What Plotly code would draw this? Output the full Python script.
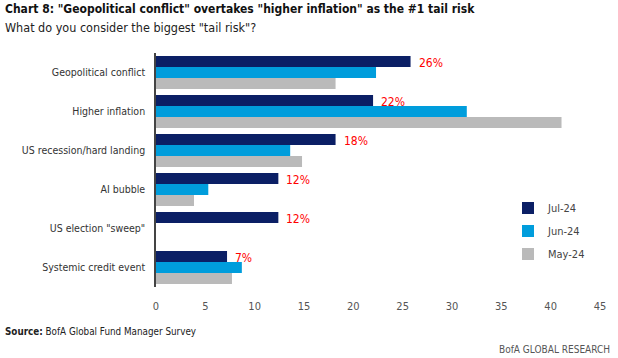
import plotly.graph_objects as go

categories = ["Geopolitical conflict", "Higher inflation", "US recession/hard landing",
              "AI bubble", "US election \"sweep\"", "Systemic credit event"]
jul_24 = [25.8, 22.0, 18.2, 12.4, 12.4, 7.2]
jun_24 = [22.3, 31.5, 13.6, 5.3, None, 8.7]
may_24 = [18.2, 41.1, 14.8, 3.85, None, 7.7]
jul_labels = ["26%", "22%", "18%", "12%", "12%", "7%"]
x_ticks = [0, 5, 10, 15, 20, 25, 30, 35, 40, 45]

FONT = "DejaVu Sans Condensed, Roboto, sans-serif"
C_JUL = "#0b1f65"
C_JUN = "#009ddc"
C_MAY = "#bababa"

# plot area in pixels: left 156, right 600, top 53, bottom 287
PW, PH = 444, 234

fig = go.Figure()
for name, vals, col, grp in [("Jul-24", jul_24, C_JUL, "a"), ("Jun-24", jun_24, C_JUN, "b"),
                             ("May-24", may_24, C_MAY, "c")]:
    fig.add_trace(go.Bar(y=categories, x=vals, name=name, orientation="h",
                         marker=dict(color=col, line=dict(width=0)), legendgroup=grp))

for cat, v, lab in zip(categories, jul_24, jul_labels):
    fig.add_annotation(x=v, y=cat, text=lab, showarrow=False, xanchor="left",
                       xshift=6, yshift=10, font=dict(family=FONT, size=12, color="#ff0000"))

fig.update_layout(
    width=618, height=358,
    margin=dict(l=156, r=18, t=53, b=71, autoexpand=False),
    paper_bgcolor="white", plot_bgcolor="white",
    font=dict(family=FONT, size=10.5, color="#333333"),
    barmode="group", bargap=0.16, bargroupgap=0,
    showlegend=True,
    legend=dict(x=(508 - 156) / PW, y=0.40, xanchor="left", yanchor="top", traceorder="grouped",
                tracegroupgap=4, font=dict(family=FONT, size=11, color="#444444"),
                itemwidth=30, bgcolor="rgba(0,0,0,0)"),
    xaxis=dict(range=[0, 45], tickvals=x_ticks, showgrid=False, zeroline=False, automargin=False,
               showline=False, ticks="", tickfont=dict(family=FONT, size=11, color="#555555"),
               ticklabelstandoff=11),
    yaxis=dict(autorange="reversed", showgrid=False, zeroline=False, showline=True, automargin=False,
               linecolor="#444444", linewidth=1.5, ticks="",
               tickfont=dict(family=FONT, size=10.5, color="#333333"), ticklabelstandoff=7),
)

fig.add_annotation(xref="paper", yref="paper", x=(3 - 156) / PW, y=1 + 44 / PH, xanchor="left", yanchor="middle",
                   text="<b>Chart 8: \"Geopolitical conflict\" overtakes \"higher inflation\" as the #1 tail risk</b>",
                   showarrow=False, font=dict(family=FONT, size=12, color="#111111"))
fig.add_annotation(xref="paper", yref="paper", x=(3 - 156) / PW, y=1 + 25 / PH, xanchor="left", yanchor="middle",
                   text="What do you consider the biggest \"tail risk\"?",
                   showarrow=False, font=dict(family=FONT, size=12.5, color="#222222"))
fig.add_annotation(xref="paper", yref="paper", x=(3 - 156) / PW, y=-44 / PH, xanchor="left", yanchor="middle",
                   text="<b>Source:</b> BofA Global Fund Manager Survey",
                   showarrow=False, font=dict(family=FONT, size=9.8, color="#222222"))
fig.add_annotation(xref="paper", yref="paper", x=1 + 12 / PW, y=-62 / PH, xanchor="right", yanchor="middle",
                   text="BofA GLOBAL RESEARCH",
                   showarrow=False, font=dict(family=FONT, size=10, color="#555555"))

fig.write_html("out.html", config={"displayModeBar": False},
               post_script="document.body.style.margin='0';")
